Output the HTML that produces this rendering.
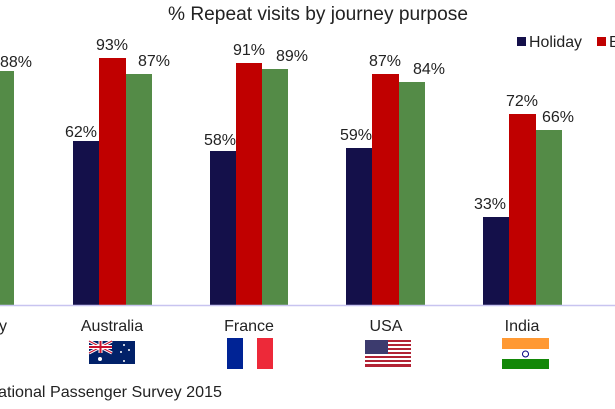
<!DOCTYPE html>
<html><head><meta charset="utf-8"><style>
body{margin:0;width:615px;height:404px;overflow:hidden;background:#fff;font-family:"Liberation Sans",sans-serif;}
</style></head><body>
<svg width="615" height="404" viewBox="0 0 615 404" xmlns="http://www.w3.org/2000/svg" font-family="Liberation Sans, sans-serif">
<rect width="615" height="404" fill="#fff"/>
<text x="318" y="20" font-size="19" text-anchor="middle" fill="#222" textLength="300" lengthAdjust="spacingAndGlyphs">% Repeat visits by journey purpose</text>
<rect x="517" y="37" width="9" height="9" fill="#14104a"/>
<text x="529" y="47" font-size="16" fill="#222" textLength="53" lengthAdjust="spacingAndGlyphs">Holiday</text>
<rect x="597" y="37" width="9" height="9" fill="#c00000"/>
<text x="609" y="47" font-size="16" fill="#222">B</text>
<g font-size="16" fill="#222">
<rect x="-12" y="71" width="26" height="234" fill="#548b47"/>
<text x="0" y="67">88%</text>
<!-- Australia -->
<rect x="73" y="141" width="26" height="164" fill="#14104a"/>
<rect x="99" y="58" width="27" height="247" fill="#c00000"/>
<rect x="126" y="74" width="26" height="231" fill="#548b47"/>
<text x="97" y="137" text-anchor="end">62%</text><text x="112" y="50" text-anchor="middle">93%</text><text x="138" y="66">87%</text>
<!-- France -->
<rect x="210" y="151" width="26" height="154" fill="#14104a"/>
<rect x="236" y="63" width="26" height="242" fill="#c00000"/>
<rect x="262" y="69" width="26" height="236" fill="#548b47"/>
<text x="236" y="145" text-anchor="end">58%</text><text x="249" y="55" text-anchor="middle">91%</text><text x="276" y="61">89%</text>
<!-- USA -->
<rect x="346" y="148" width="26" height="157" fill="#14104a"/>
<rect x="372" y="74" width="27" height="231" fill="#c00000"/>
<rect x="399" y="82" width="26" height="223" fill="#548b47"/>
<text x="372" y="140" text-anchor="end">59%</text><text x="385" y="66" text-anchor="middle">87%</text><text x="413" y="74">84%</text>
<!-- India -->
<rect x="483" y="217" width="26" height="88" fill="#14104a"/>
<rect x="509" y="114" width="27" height="191" fill="#c00000"/>
<rect x="536" y="130" width="26" height="175" fill="#548b47"/>
<text x="506" y="209" text-anchor="end">33%</text><text x="522" y="106" text-anchor="middle">72%</text><text x="542" y="122">66%</text>
</g>
<line x1="0" y1="305.5" x2="615" y2="305.5" stroke="#c8c4f0" stroke-width="1.5"/>
<g font-size="16" fill="#222" text-anchor="middle">
<text x="3" y="331">y</text>
<text x="112" y="331">Australia</text>
<text x="249" y="331">France</text>
<text x="386" y="331">USA</text>
<text x="522" y="331">India</text>
</g>
<g>
<rect x="89" y="341" width="46" height="23" fill="#012169"/>
<path d="M89 341 L112 353 M112 341 L89 353" stroke="#fff" stroke-width="3"/>
<path d="M89 341 L112 353 M112 341 L89 353" stroke="#c8102e" stroke-width="1"/>
<path d="M100.5 341 V353 M89 347 H112" stroke="#fff" stroke-width="4"/>
<path d="M100.5 341 V353 M89 347 H112" stroke="#c8102e" stroke-width="2"/>
<circle cx="100" cy="359" r="2" fill="#fff"/>
<circle cx="124" cy="345" r="1" fill="#fff"/><circle cx="129" cy="350" r="1" fill="#fff"/>
<circle cx="121" cy="352" r="1" fill="#fff"/><circle cx="124" cy="361" r="1" fill="#fff"/>
</g>
<rect x="227" y="338" width="16" height="31" fill="#002395"/>
<rect x="243" y="338" width="14" height="31" fill="#fff"/>
<rect x="257" y="338" width="16" height="31" fill="#ed2939"/>
<g>
<rect x="365" y="340" width="46" height="27" fill="#fff"/>
<g fill="#b22234">
<rect x="365" y="340" width="46" height="2"/><rect x="365" y="344" width="46" height="2"/>
<rect x="365" y="348" width="46" height="2"/><rect x="365" y="352" width="46" height="2"/>
<rect x="365" y="356" width="46" height="2"/><rect x="365" y="360" width="46" height="2"/>
<rect x="365" y="364" width="46" height="3"/>
</g>
<rect x="365" y="340" width="23" height="14" fill="#3c3b6e"/>
</g>
<rect x="502" y="338" width="47" height="11" fill="#ff9933"/>
<rect x="502" y="349" width="47" height="10" fill="#fff"/>
<rect x="502" y="359" width="47" height="10" fill="#138808"/>
<circle cx="525.5" cy="354" r="3" fill="none" stroke="#000080" stroke-width="1"/>
<text x="-2" y="397" font-size="16" fill="#222" textLength="224" lengthAdjust="spacingAndGlyphs">ational Passenger Survey 2015</text>
</svg>
</body></html>
